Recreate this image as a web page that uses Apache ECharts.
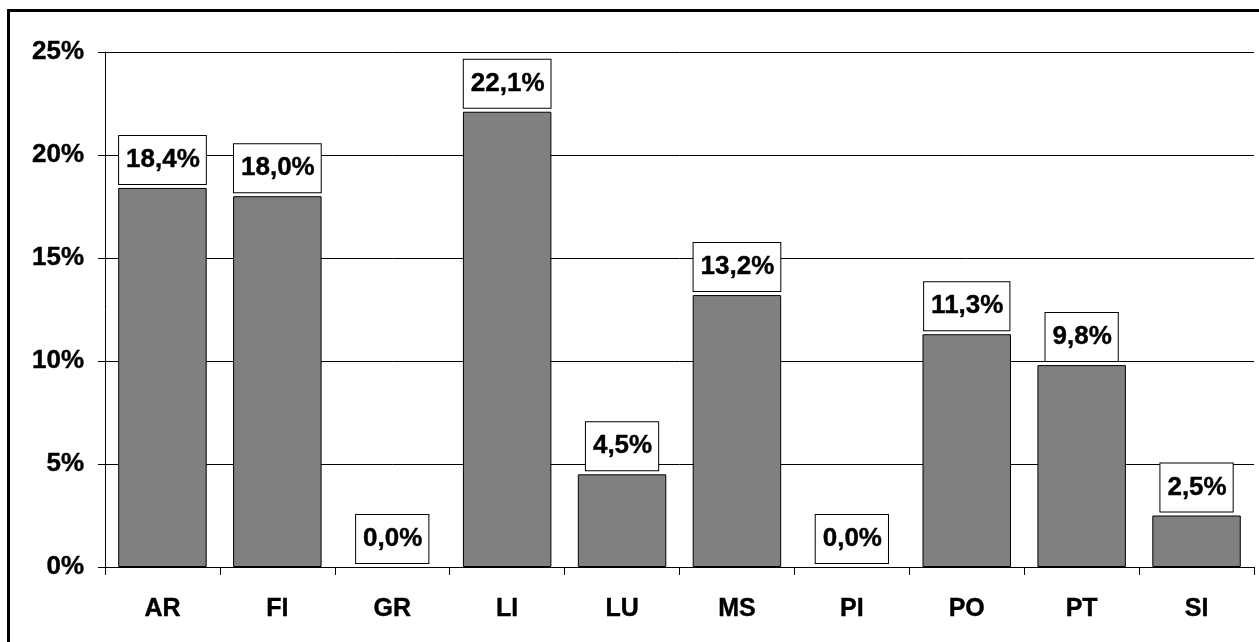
<!DOCTYPE html>
<html>
<head>
<meta charset="utf-8">
<script src="https://cdn.jsdelivr.net/npm/echarts@6/dist/echarts.min.js"></script>
<style>
html,body{margin:0;padding:0;background:#fff;overflow:hidden;}
#frame{position:absolute;left:7px;top:9px;width:1300px;height:700px;border:3px solid #000;box-sizing:border-box;}
#chart{position:absolute;left:0;top:0;width:1259px;height:642px;}
</style>
</head>
<body>
<div id="frame"></div>
<div id="chart"></div>
<script>
const categories = ['AR','FI','GR','LI','LU','MS','PI','PO','PT','SI'];
const values = [18.4, 18.0, 0.0, 22.1, 4.5, 13.2, 0.0, 11.3, 9.8, 2.5];
const yTicks = [0, 5, 10, 15, 20, 25];

const font = 'Liberation Sans, Arial, sans-serif';
const chart = echarts.init(document.getElementById('chart'), null, {renderer:'canvas'});
chart.setOption({
  backgroundColor: 'transparent',
  animation: false,
  grid: {left: 105, right: 5, top: 52, bottom: 75, containLabel: false},
  xAxis: {
    type: 'category',
    data: categories,
    axisLine: {show: true, lineStyle: {color: '#000', width: 1}},
    axisTick: {show: true, length: 8, alignWithLabel: false, lineStyle: {color: '#000'}},
    axisLabel: {color: '#000', fontFamily: font, fontWeight: 'bold', fontSize: 25, margin: 30,
      textBorderColor: '#000', textBorderWidth: 0.4}
  },
  yAxis: {
    type: 'value',
    min: yTicks[0], max: yTicks[yTicks.length-1], interval: 5,
    axisLine: {show: true, lineStyle: {color: '#000', width: 1}},
    axisTick: {show: true, length: 7, lineStyle: {color: '#000'}},
    splitLine: {show: true, lineStyle: {color: '#000', width: 1}},
    axisLabel: {color: '#000', fontFamily: font, fontWeight: 'bold', fontSize: 26, margin: 21,
      textBorderColor: '#000', textBorderWidth: 0.4,
      formatter: v => v + '%'}
  },
  series: [{
    type: 'bar',
    data: values.map(v => ({value: v, itemStyle: v === 0 ? {borderWidth: 0, color: 'rgba(0,0,0,0)'} : undefined})),
    barCategoryGap: '23%',
    itemStyle: {color: '#808080', borderColor: '#000', borderWidth: 1},
    label: {
      show: true, position: 'top', distance: 4,
      formatter: p => p.value.toFixed(1).replace('.', ',') + '%',
      color: '#000', fontFamily: font, fontWeight: 'bold', fontSize: 26,
      textBorderColor: '#000', textBorderWidth: 0.4,
      backgroundColor: '#fff', borderColor: '#000', borderWidth: 1,
      padding: [11, 6, 11, 7]
    }
  }]
});
</script>
</body>
</html>
